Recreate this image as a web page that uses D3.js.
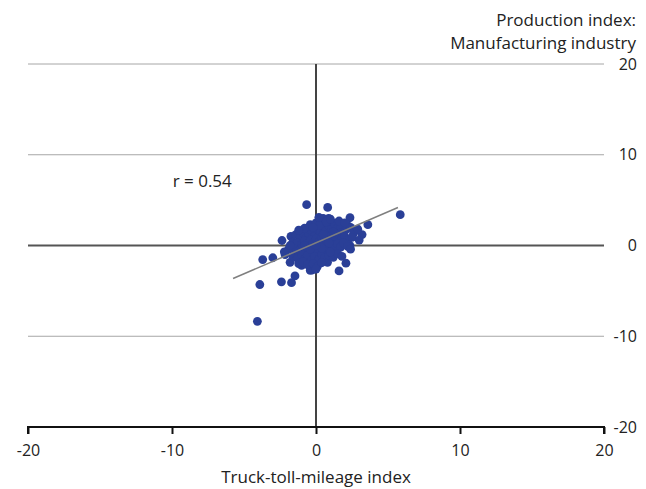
<!DOCTYPE html>
<html><head><meta charset="utf-8">
<script src="https://cdn.jsdelivr.net/npm/d3@7"></script>
<style>body{margin:0;background:#fff}svg{display:block}text{font-family:"Open Sans",sans-serif;fill:#222}</style>
</head><body>
<script>
const xTicks = [-20, -10, 0, 10, 20];
const yTicks = [-20, -10, 0, 10, 20];
const xTitle = "Truck-toll-mileage index";
const yTitle = ["Production index:", "Manufacturing industry"];
const rLabel = "r = 0.54";
// [truck-toll-mileage index, production index]
const points = [
[-0.65,4.5],[0.81,4.2],[0.5,3.0],[0.88,3.0],[2.36,3.06],[1.4,2.5],[2.2,2.2],[3.6,2.3],[5.85,3.4],[2.7,1.65],[3.2,1.2],
[-2.36,0.55],[-1.74,1.0],[-1.2,1.5],[-0.5,1.7],[-1.6,0.37],
[-3.7,-1.55],[-3.0,-1.35],[-2.15,-1.0],[-1.8,-1.85],[-3.9,-4.3],[-2.4,-4.0],[-1.7,-4.1],[-1.46,-3.35],[-4.07,-8.35],[-0.4,-2.75],[-0.25,-2.7],[-1.0,-2.2],[-0.4,-2.4],
[1.6,-2.8],[2.08,-1.95],[0.8,-1.85],[2.36,0.0],[2.1,0.55],
[-1.4,1.2],[-1.1,0.9],[-0.9,1.4],[-0.7,0.8],[-0.5,1.2],[-0.3,1.6],[-0.1,1.0],[0.1,1.8],[0.3,1.4],[0.5,2.0],[0.7,1.6],[0.9,2.2],[1.1,1.8],[1.3,2.4],[1.5,1.9],[1.7,2.1],[1.9,1.5],[2.1,1.8],[2.4,2.0],[2.6,1.3],
[-1.3,0.3],[-1.0,0.1],[-0.8,0.5],[-0.6,0.2],[-0.4,0.6],[-0.2,0.3],[0.0,0.7],[0.2,0.4],[0.4,0.9],[0.6,0.5],[0.8,1.0],[1.0,0.6],[1.2,1.1],[1.4,0.7],[1.6,1.2],[1.8,0.8],[2.0,1.0],[2.2,0.6],[2.5,0.9],
[-1.5,-0.4],[-1.2,-0.6],[-0.9,-0.2],[-0.7,-0.7],[-0.5,-0.3],[-0.3,-0.8],[-0.1,-0.2],[0.1,-0.6],[0.3,-0.1],[0.5,-0.5],[0.7,0.0],[0.9,-0.4],[1.1,0.1],[1.3,-0.3],[1.5,0.2],[1.7,-0.2],[1.9,0.3],[2.2,-0.1],
[-1.6,-1.2],[-1.3,-1.4],[-1.0,-1.0],[-0.8,-1.5],[-0.6,-1.1],[-0.3,-1.6],[-0.1,-1.2],[0.2,-1.5],[0.4,-1.0],[0.6,-1.4],[0.9,-1.1],[1.2,-1.3],[1.5,-0.9],[1.8,-1.2],
[-1.2,-2.0],[-0.9,-1.8],[-0.6,-2.1],[-0.2,-2.0],[0.1,-2.3],[0.4,-1.9],[0.0,-2.6],
[-0.4,2.3],[0.0,2.5],[0.3,2.8],[0.7,2.6],[1.0,2.9],[1.6,2.7],[2.0,2.5],[-0.8,1.9],[-1.2,1.7],[0.2,3.1],
[0.5,1.2],[0.2,2.2],[-0.2,2.0],[1.2,1.5],[0.9,0.3],[0.4,-0.3],[-0.4,-0.4],[-0.8,0.0],[0.0,0.0],[1.0,-0.7],[-1.9,-0.4],[-2.2,-0.7],[-1.8,0.0],[2.9,1.8],[3.0,0.6],[2.4,-0.4]
];
// regression line end points
const trend = [[-5.76,-3.64],[5.69,4.19]];
const rPos = [-7.9, 6.5];

const W = 646, H = 489;
const fmt = d => String(d);
const svg = d3.select("body").append("svg").attr("width", W).attr("height", H);
const x = d3.scaleLinear().domain([-20, 20]).range([28, 604]);
const y = d3.scaleLinear().domain([-20, 20]).range([427, 64]);

// right axis labels
const yAxis = d3.axisRight(y).tickValues(yTicks).tickSize(0).tickPadding(0).tickFormat(fmt);
const gy = svg.append("g").attr("transform", `translate(637,0)`).call(yAxis);
gy.select(".domain").remove();
gy.selectAll("text").attr("text-anchor", "end").attr("x", 0).style("font-size", "16px").attr("fill", "#222");

// gridlines
svg.append("g").selectAll("line").data(yTicks.filter(d => d !== 0 && d !== -20)).join("line")
  .attr("x1", x(-20)).attr("x2", x(20)).attr("y1", d => y(d)).attr("y2", d => y(d))
  .attr("stroke", "#a6a6a6").attr("stroke-width", 1);
// zero lines
svg.append("line").attr("x1", x(-20)).attr("x2", x(20)).attr("y1", y(0)).attr("y2", y(0))
  .attr("stroke", "#555").attr("stroke-width", 2);
svg.append("line").attr("x1", x(0)).attr("x2", x(0)).attr("y1", y(20)).attr("y2", y(-20))
  .attr("stroke", "#444").attr("stroke-width", 2);

// bottom axis
const xAxis = d3.axisBottom(x).tickValues(xTicks).tickSize(7).tickPadding(11).tickFormat(fmt);
const gx = svg.append("g").attr("transform", `translate(0,${y(-20)})`).call(xAxis);
gx.select(".domain").attr("stroke", "#111").attr("stroke-width", 2).attr("d", `M${x(-20)},7V0H${x(20)}V7`);
gx.selectAll(".tick line").attr("stroke", "#111").attr("stroke-width", 2);
gx.selectAll("text").style("font-size", "16px").attr("fill", "#222");

// points
svg.append("g").selectAll("circle").data(points).join("circle")
  .attr("cx", d => x(d[0])).attr("cy", d => y(d[1])).attr("r", 4.4)
  .attr("fill", "#2a3f97");

// trend line
svg.append("line").attr("x1", x(trend[0][0])).attr("y1", y(trend[0][1]))
  .attr("x2", x(trend[1][0])).attr("y2", y(trend[1][1]))
  .attr("stroke", "#7f7f7f").attr("stroke-width", 1.5);

// labels
svg.append("text").attr("x", x(rPos[0])).attr("y", y(rPos[1])).attr("text-anchor", "middle")
  .style("font-size", "17px").text(rLabel);
svg.append("text").attr("x", x(0)).attr("y", 483).attr("text-anchor", "middle")
  .style("font-size", "17px").text(xTitle);
svg.selectAll(".ytitle").data(yTitle).join("text").attr("class", "ytitle")
  .attr("x", 636).attr("y", (d, i) => 26 + i * 23).attr("text-anchor", "end")
  .style("font-size", "17px").text(d => d);
</script>
</body></html>
